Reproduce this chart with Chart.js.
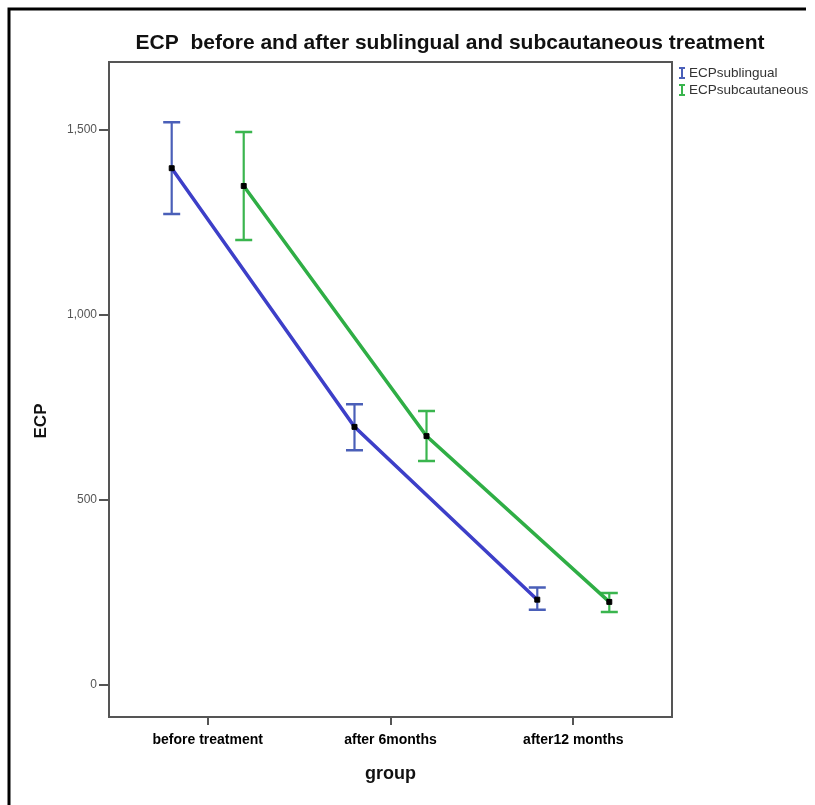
<!DOCTYPE html>
<html><head><meta charset="utf-8">
<script src="https://cdn.jsdelivr.net/npm/chart.js@4"></script>
<style>html,body{margin:0;padding:0;background:#fff;} #wrap{width:815px;height:805px;position:relative}</style>
</head><body><div id="wrap"><canvas id="c" width="815" height="805"></canvas></div>
<script>
const chartTitle = 'ECP  before and after sublingual and subcautaneous treatment';
const yTitle = 'ECP';
const xTitle = 'group';
const categories = ['before treatment', 'after 6months', 'after12 months'];
const seriesNames = ['ECPsublingual', 'ECPsubcautaneous'];
const sublingualMean = [1397, 698, 231];
const sublingualLow  = [1273, 635, 204];
const sublingualHigh = [1521, 759, 264];
const subcutMean = [1349, 673, 225];
const subcutLow  = [1203, 606, 198];
const subcutHigh = [1495, 741, 249];
const yTicks = [0, 500, 1000, 1500];

const GROUP_OFFSET = 0.197;
const blueLine = '#3d3fc8', blueBar = '#4a5fb8';
const greenLine = '#2fae45', greenBar = '#3ab54e';
const FONT = '"Liberation Sans", Arial, sans-serif';

function pts(vals, off) { return vals.map((v, i) => ({x: i + off, y: v})); }

const series = [
  {name: seriesNames[0], mean: sublingualMean, low: sublingualLow, high: sublingualHigh, off: -GROUP_OFFSET, line: blueLine, bar: blueBar},
  {name: seriesNames[1], mean: subcutMean, low: subcutLow, high: subcutHigh, off: GROUP_OFFSET, line: greenLine, bar: greenBar}
];

const extras = {
  id: 'extras',
  beforeDatasetsDraw(chart) {
    const ctx = chart.ctx, xs = chart.scales.x, ys = chart.scales.y;
    ctx.save();
    series.forEach(s => {
      ctx.strokeStyle = s.bar;
      s.mean.forEach((m, i) => {
        const x = xs.getPixelForValue(i + s.off);
        const y1 = ys.getPixelForValue(s.low[i]);
        const y2 = ys.getPixelForValue(s.high[i]);
        ctx.lineWidth = 2.2;
        ctx.beginPath(); ctx.moveTo(x, y1); ctx.lineTo(x, y2); ctx.stroke();
        ctx.lineWidth = 2.5;
        ctx.beginPath(); ctx.moveTo(x - 8.5, y1); ctx.lineTo(x + 8.5, y1);
        ctx.moveTo(x - 8.5, y2); ctx.lineTo(x + 8.5, y2); ctx.stroke();
      });
    });
    ctx.restore();
  },
  afterDraw(chart) {
    const ctx = chart.ctx, a = chart.chartArea;
    ctx.save();
    // plot box top & right
    ctx.strokeStyle = '#555'; ctx.lineWidth = 2;
    ctx.beginPath(); ctx.moveTo(a.left, a.top); ctx.lineTo(a.right, a.top); ctx.lineTo(a.right, a.bottom); ctx.stroke();
    // title
    ctx.fillStyle = '#111';
    ctx.font = 'bold 21px ' + FONT;
    ctx.textAlign = 'center'; ctx.textBaseline = 'middle';
    ctx.fillText(chartTitle, 450, 43);
    // y axis title
    ctx.save();
    ctx.translate(41, 421);
    ctx.rotate(-Math.PI / 2);
    ctx.font = 'bold 17px ' + FONT;
    ctx.fillText(yTitle, 0, 0);
    ctx.restore();
    // legend
    ctx.font = '13.5px ' + FONT;
    ctx.textAlign = 'left';
    series.forEach((s, k) => {
      const y = 73 + k * 17;
      ctx.strokeStyle = s.bar; ctx.lineWidth = 2;
      ctx.beginPath();
      ctx.moveTo(682, y - 5); ctx.lineTo(682, y + 5);
      ctx.moveTo(679, y - 5); ctx.lineTo(685, y - 5);
      ctx.moveTo(679, y + 5); ctx.lineTo(685, y + 5);
      ctx.stroke();
      ctx.fillStyle = '#333';
      ctx.fillText(s.name, 689, y);
    });
    // outer frame
    ctx.strokeStyle = '#000'; ctx.lineWidth = 3;
    ctx.beginPath(); ctx.moveTo(9, 805); ctx.lineTo(9, 9); ctx.lineTo(806, 9); ctx.stroke();
    ctx.restore();
  }
};

new Chart(document.getElementById('c'), {
  type: 'line',
  data: {
    datasets: series.map(s => ({
      label: s.name,
      data: pts(s.mean, s.off),
      borderColor: s.line,
      borderWidth: 3.5,
      pointStyle: 'rect',
      pointRadius: 3.5,
      pointBackgroundColor: '#000',
      pointBorderColor: '#000',
      pointBorderWidth: 1,
      tension: 0,
      fill: false
    }))
  },
  options: {
    responsive: false,
    animation: false,
    devicePixelRatio: 1,
    layout: {padding: {top: 62, left: 0, right: 143, bottom: 0}},
    plugins: {legend: {display: false}, title: {display: false}, tooltip: {enabled: false}},
    scales: {
      x: {
        type: 'linear', min: -0.54, max: 2.54,
        afterFit: s => { s.height = 88; },
        afterBuildTicks: s => { s.ticks = categories.map((c, i) => ({value: i})); },
        ticks: {callback: v => categories[v], color: '#000', font: {family: FONT, size: 14, weight: 'bold'}, padding: 7, maxRotation: 0, autoSkip: false},
        grid: {drawOnChartArea: false, drawTicks: true, tickLength: 8, color: '#555', lineWidth: 2},
        border: {display: true, color: '#555', width: 2},
        title: {display: true, text: xTitle, color: '#111', font: {family: FONT, size: 18, weight: 'bold'}, padding: {top: 0, bottom: 20}}
      },
      y: {
        type: 'linear', min: -86, max: 1684,
        afterFit: s => { s.width = 109; },
        afterBuildTicks: s => { s.ticks = yTicks.map(v => ({value: v})); },
        ticks: {callback: v => v.toLocaleString('en-US'), color: '#555', font: {family: FONT, size: 12}, padding: 2},
        grid: {drawOnChartArea: false, drawTicks: true, tickLength: 10, color: '#555', lineWidth: 2},
        border: {display: true, color: '#555', width: 2},
        title: {display: false}
      }
    }
  },
  plugins: [extras]
});
</script>
</body></html>
